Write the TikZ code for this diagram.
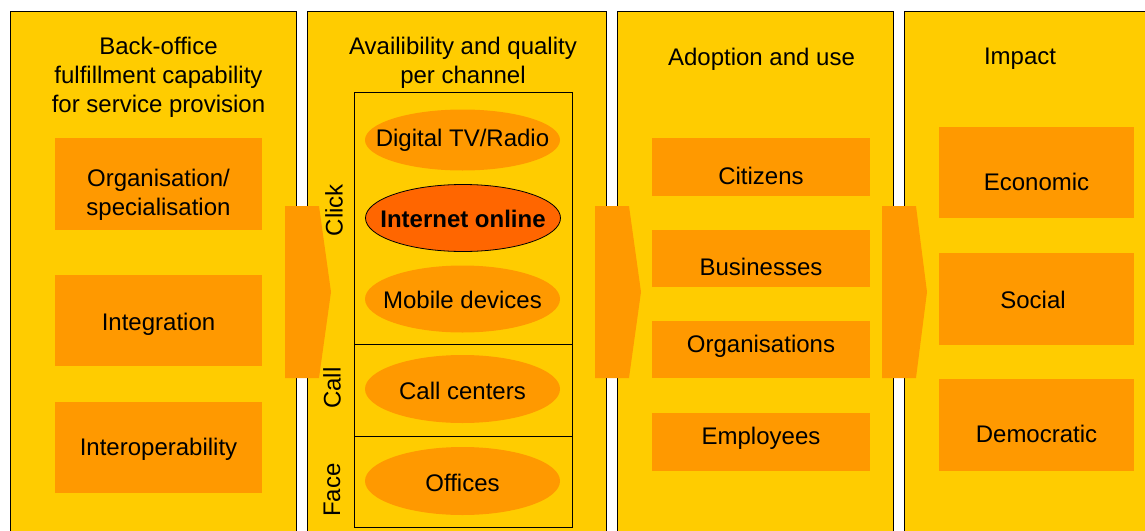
\documentclass[tikz,border=0pt]{standalone}
\usepackage{fontspec}
\setmainfont{Liberation Sans}
\usetikzlibrary{shapes.geometric}
\definecolor{colfill}{HTML}{FFCC00}
\definecolor{boxfill}{HTML}{FF9900}
\definecolor{hotfill}{HTML}{FF6600}
\begin{document}
\begin{tikzpicture}[x=1pt,y=-1pt,
  font=\fontsize{24}{28.8}\selectfont,
  column/.style={draw=black,line width=1.2pt,fill=colfill,inner sep=0pt,anchor=north west},
  obox/.style={fill=boxfill,inner sep=0pt},
  chan/.style={ellipse,fill=boxfill,inner sep=0pt,minimum width=195,minimum height=64},
  hot/.style={chan,fill=hotfill,draw=black,line width=0.8pt},
  txt/.style={inner sep=0pt,align=center},
  flow/.style={fill=boxfill},
  chanbox/.style={draw=black,line width=1.2pt,inner sep=0pt}]
\useasboundingbox (0,0) rectangle (1145,530);
\clip (0,0) rectangle (1145,530);
\fill[white] (0,0) rectangle (1145,530);
% columns
\node[column,minimum width=286,minimum height=560] (c1) at (10,11) {};
\node[column,minimum width=299,minimum height=560] (c2) at (307,11) {};
\node[column,minimum width=276,minimum height=560] (c3) at (617,11) {};
\node[column,minimum width=260,minimum height=560] (c4) at (904,11) {};
% flow arrows
\fill[flow] (285,206) -- (319,206) -- (331,292) -- (319,378) -- (285,378) -- cycle;
\fill[flow] (595,206) -- (629,206) -- (641,292) -- (629,378) -- (595,378) -- cycle;
\fill[flow] (882,206) -- (916,206) -- (927,292) -- (916,378) -- (882,378) -- cycle;
% headers
\node[txt] (h1) at (158.5,77.5) {Back-office\\fulfillment capability\\for service provision};
\node[txt] (h2) at (463,63) {Availibility and quality\\per channel};
\node[txt] (h3) at (761.5,59) {Adoption and use};
\node[txt] (h4) at (1020,59) {Impact};
% column 1 boxes
\node[obox,minimum width=207,minimum height=92] (b11) at (158.5,184) {};
\node[txt] (t11) at (158.5,195) {Organisation/\\specialisation};
\node[obox,minimum width=207,minimum height=91] (b12) at (158.5,320.5) {};
\node[txt] (t12) at (158.5,324) {Integration};
\node[obox,minimum width=207,minimum height=91] (b13) at (158.5,447.5) {};
\node[txt] (t13) at (158.5,449) {Interoperability};
% channel box
\node[chanbox,minimum width=218,minimum height=252,anchor=north west] (k1) at (354,92) {};
\node[chanbox,minimum width=218,minimum height=92,anchor=north west] (k2) at (354,344) {};
\node[chanbox,minimum width=218,minimum height=91,anchor=north west] (k3) at (354,436) {};
\node[txt,rotate=90] (lclick) at (334,210) {Click};
\node[txt,rotate=90] (lcall) at (332,388) {Call};
\node[txt,rotate=90] (lface) at (332,490) {Face};
\node[chan,minimum height=61] (e1) at (462.5,140) {};
\node[txt] (t21) at (462.5,140) {Digital TV/Radio};
\node[hot,minimum height=67] (e2) at (463,218) {};
\node[txt] (t22) at (463,219) {\textbf{Internet online}};
\node[chan,minimum height=67] (e3) at (462.5,299) {};
\node[txt] (t23) at (462.5,300) {Mobile devices};
\node[chan,minimum height=68] (e4) at (462.5,389) {};
\node[txt] (t24) at (462.5,391) {Call centers};
\node[chan,minimum height=68] (e5) at (462.5,481) {};
\node[txt] (t25) at (462.5,483) {Offices};
% column 3 boxes
\node[obox,minimum width=218,minimum height=58] (b31) at (761,167) {};
\node[txt] (t31) at (761,175.5) {Citizens};
\node[obox,minimum width=218,minimum height=57] (b32) at (761,258.5) {};
\node[txt] (t32) at (761,267) {Businesses};
\node[obox,minimum width=218,minimum height=57] (b33) at (761,349.5) {};
\node[txt] (t33) at (761,346) {Organisations};
\node[obox,minimum width=218,minimum height=58] (b34) at (761,442) {};
\node[txt] (t34) at (761,438) {Employees};
% column 4 boxes
\node[obox,minimum width=195,minimum height=91] (b41) at (1036.5,172.5) {};
\node[txt] (t41) at (1036.5,181.5) {Economic};
\node[obox,minimum width=195,minimum height=92] (b42) at (1036.5,299) {};
\node[txt] (t42) at (1033,299.5) {Social};
\node[obox,minimum width=195,minimum height=92] (b43) at (1036.5,425) {};
\node[txt] (t43) at (1036.5,433.5) {Democratic};
\end{tikzpicture}
\end{document}
